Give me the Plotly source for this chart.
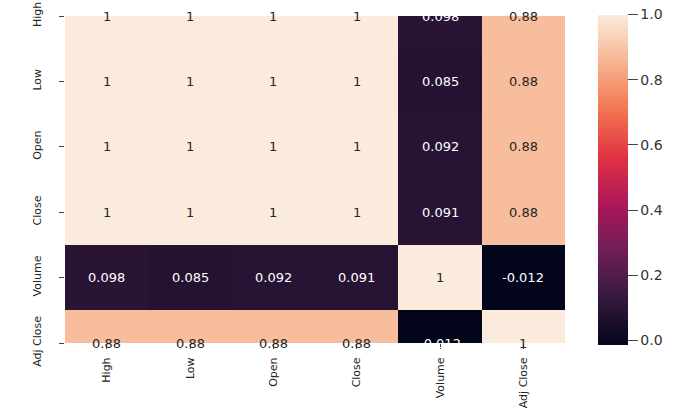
import plotly.graph_objects as go

# Correlation matrix of stock price columns
labels = ["High", "Low", "Open", "Close", "Volume", "Adj Close"]
row_high = [1, 1, 1, 1, 0.098, 0.88]
row_low = [1, 1, 1, 1, 0.085, 0.88]
row_open = [1, 1, 1, 1, 0.092, 0.88]
row_close = [1, 1, 1, 1, 0.091, 0.88]
row_volume = [0.098, 0.085, 0.092, 0.091, 1, -0.012]
row_adj_close = [0.88, 0.88, 0.88, 0.88, -0.012, 1]
corr = [row_high, row_low, row_open, row_close, row_volume, row_adj_close]

cbar_ticks = [0.0, 0.2, 0.4, 0.6, 0.8, 1.0]

# "rocket"-style sequential palette
rocket = [
    [0.0, "#03051A"],
    [0.143, "#35193E"],
    [0.286, "#701F57"],
    [0.429, "#AD1759"],
    [0.571, "#E13342"],
    [0.714, "#F37651"],
    [0.857, "#F6B48F"],
    [1.0, "#FAEBDD"],
]

FONT = "DejaVu Sans"
idx = list(range(len(labels)))

zmin = min(min(r) for r in corr)
zmax = max(max(r) for r in corr)

fig = go.Figure(
    go.Heatmap(
        z=corr,
        x=idx,
        y=idx,
        zmin=zmin,
        zmax=zmax,
        colorscale=rocket,
        colorbar=dict(
            thickness=30,
            len=1.01,
            lenmode="fraction",
            x=1.066,
            xanchor="left",
            xpad=0,
            y=0.5,
            yanchor="middle",
            ypad=0,
            outlinewidth=0,
            ticks="outside",
            ticklen=10,
            tickcolor="#444",
            tickvals=cbar_ticks,
            ticktext=[f"{v:.1f}" for v in cbar_ticks],
            tickfont=dict(family=FONT, size=14, color="#333"),
        ),
        hoverinfo="skip",
    )
)


def fmt(v):
    return f"{v:.2g}"


# Cell value labels (drawn as annotations so they are not clipped)
annotations = []
for i, row in enumerate(corr):
    for j, v in enumerate(row):
        frac = (v - zmin) / (zmax - zmin)
        annotations.append(
            dict(
                x=j,
                y=i,
                xref="x",
                yref="y",
                text=fmt(v),
                showarrow=False,
                font=dict(family=FONT, size=13,
                          color="#262626" if frac > 0.5 else "#ffffff"),
            )
        )

fig.update_layout(
    width=680,
    height=408,
    margin=dict(l=65, r=115, t=16, b=65, autoexpand=False),
    paper_bgcolor="white",
    plot_bgcolor="white",
    annotations=annotations,
    showlegend=False,
)

axis_style = dict(
    tickvals=idx,
    ticktext=labels,
    tickangle=-90,
    ticks="outside",
    ticklen=5,
    tickcolor="#444",
    tickfont=dict(family=FONT, size=11, color="#222"),
    showgrid=False,
    zeroline=False,
    showline=False,
    automargin=False,
)
fig.update_xaxes(range=[-0.5, len(labels) - 0.5], ticklabelstandoff=4, **axis_style)
fig.update_yaxes(range=[len(labels) - 1, 0], ticklabelstandoff=14, **axis_style)

fig.write_html("out.html")
